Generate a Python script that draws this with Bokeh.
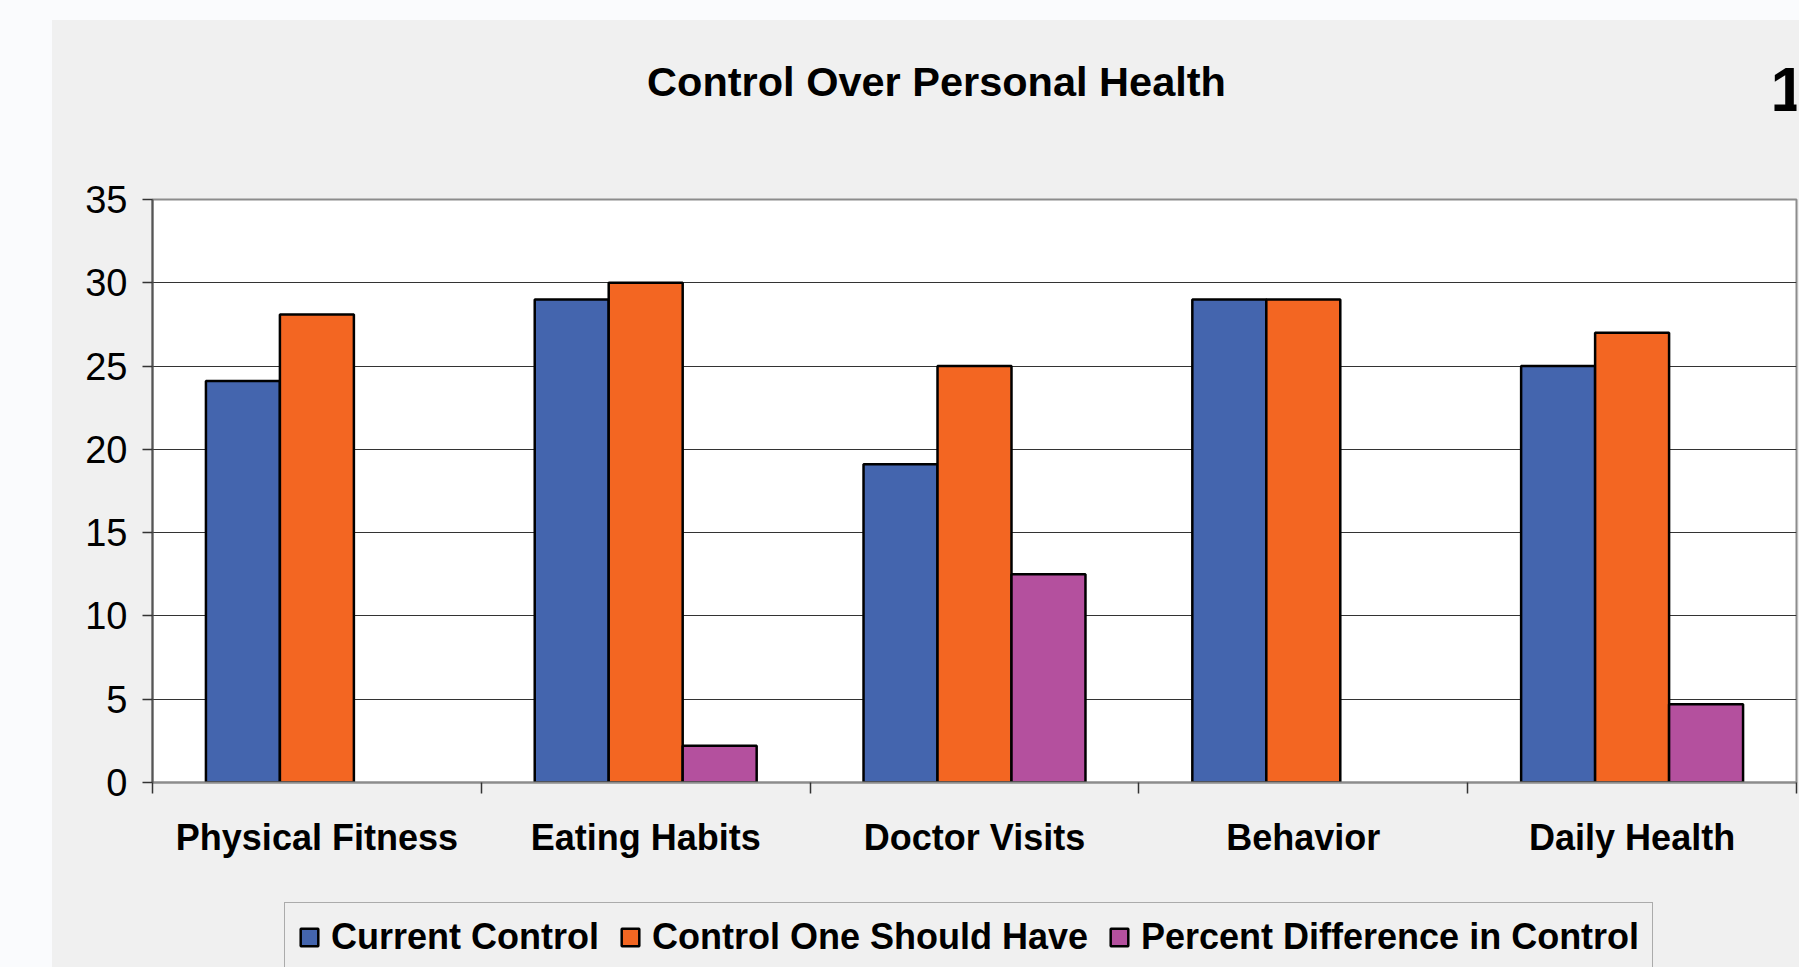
import numpy as np
from bokeh.plotting import figure
from bokeh.models import (ColumnDataSource, Range1d, FixedTicker, LinearAxis, Grid,
                          Legend, LegendItem, Label, Spacer)
from bokeh.layouts import column, row
from bokeh.transform import dodge
from bokeh.embed import file_html
from bokeh.resources import INLINE

# ---- data ----
categories = ["Physical Fitness", "Eating Habits", "Doctor Visits", "Behavior", "Daily Health"]
current_control = [24.1, 29.0, 19.1, 29.0, 25.0]
control_should_have = [28.1, 30.0, 25.0, 29.0, 27.0]
percent_difference = [np.nan, 2.2, 12.5, np.nan, 4.7]
series_names = ["Current Control", "Control One Should Have", "Percent Difference in Control"]
series_colors = ["#4465AE", "#F36622", "#B4509E"]
y_ticks = [0, 5, 10, 15, 20, 25, 30, 35]
title_text = "Control Over Personal Health"
corner_text = "1"

FONT = "Liberation Sans"
PANEL = "#F0F0F0"
PAGE = "#FAFBFD"
W = 1747

# ---------------- top strip: title ----------------
top = figure(width=W, height=130, x_range=Range1d(0, 1), y_range=Range1d(0, 1),
             output_backend="svg", toolbar_location=None,
             x_axis_type=None, y_axis_type=None,
             min_border=0, min_border_left=0, min_border_right=0,
             min_border_top=0, min_border_bottom=0,
             background_fill_color=PANEL, border_fill_color=PANEL, outline_line_color=None)
top.grid.visible = False
top.add_layout(Label(x=784, y=69, x_units="screen", y_units="screen", text=title_text,
                     text_align="center", text_baseline="alphabetic",
                     text_font=FONT, text_font_size="41.5px", text_font_style="bold",
                     text_color="black"))
top.add_layout(Label(x=1618, y=61, x_units="screen", y_units="screen", text=corner_text,
                     text_align="left", text_baseline="alphabetic",
                     text_font=FONT, text_font_size="63px", text_font_style="bold",
                     text_color="black"))

# ---------------- main chart ----------------
x_pos = np.arange(len(categories)) + 0.5
source = ColumnDataSource(dict(x=x_pos, cat=categories, cur=current_control,
                               sho=control_should_have, pct=percent_difference))

p = figure(width=W, height=740,
           x_range=Range1d(0, len(categories)), y_range=Range1d(y_ticks[0], y_ticks[-1]),
           output_backend="svg", toolbar_location=None,
           x_axis_type=None, y_axis_type=None,
           min_border_left=100, min_border_right=3, min_border_top=49, min_border_bottom=108,
           background_fill_color="white", border_fill_color=PANEL,
           outline_line_color="#8C8C8C", outline_line_width=2)

p.add_layout(Grid(dimension=1, ticker=FixedTicker(ticks=y_ticks[1:-1]),
                  grid_line_color="#333333", grid_line_width=1))

bw = 0.225
cols = ["cur", "sho", "pct"]
offsets = [-bw, 0.0, bw]
for col, off, color in zip(cols, offsets, series_colors):
    p.vbar(x=dodge("x", off, range=p.x_range), top=col, bottom=0, width=bw,
           source=source, fill_color=color, line_color="black", line_width=2.5)

xaxis = LinearAxis(
    ticker=FixedTicker(ticks=list(x_pos), minor_ticks=list(range(len(categories) + 1))),
    major_label_overrides={float(x): c for x, c in zip(x_pos, categories)},
    major_tick_line_color=None,
    minor_tick_in=0, minor_tick_out=11, minor_tick_line_color="#333333", minor_tick_line_width=1.5,
    axis_line_color="#8C8C8C", axis_line_width=2,
    major_label_standoff=23,
    major_label_text_font=FONT, major_label_text_font_size="36px",
    major_label_text_font_style="bold", major_label_text_color="black")
p.add_layout(xaxis, "below")

yaxis = LinearAxis(
    ticker=FixedTicker(ticks=y_ticks),
    major_tick_in=0, major_tick_out=10, major_tick_line_color="#333333", major_tick_line_width=1.5,
    minor_tick_line_color=None,
    axis_line_color="#555555", axis_line_width=2,
    major_label_standoff=15,
    major_label_text_font=FONT, major_label_text_font_size="38px",
    major_label_text_color="black")
p.add_layout(yaxis, "left")

# ---------------- bottom strip: legend ----------------
bot = figure(width=W, height=77, x_range=Range1d(0, 1), y_range=Range1d(0, 1),
             output_backend="svg", toolbar_location=None,
             x_axis_type=None, y_axis_type=None,
             min_border=0, min_border_left=0, min_border_right=0,
             min_border_top=0, min_border_bottom=0,
             background_fill_color=PANEL, border_fill_color=PANEL, outline_line_color=None)
bot.grid.visible = False
items = []
for name, col, color in zip(series_names, cols, series_colors):
    r = bot.vbar(x="x", top=col, width=0.1, source=source, visible=False,
                 fill_color=color, line_color="black", line_width=2.5)
    items.append(LegendItem(label=name, renderers=[r]))

legend = Legend(
    items=items, location=(132, -5), orientation="horizontal",
    glyph_width=22, glyph_height=22, label_standoff=11, spacing=20, padding=13, margin=0,
    border_line_color="#666666", border_line_width=1.5,
    background_fill_color=PANEL, background_fill_alpha=1.0,
    inactive_fill_alpha=0.0,
    label_text_font=FONT, label_text_font_size="36px", label_text_font_style="bold",
    label_text_color="black")
bot.add_layout(legend)

panel = column(top, p, bot, styles={"background-color": PANEL})
layout = row(Spacer(width=52), column(Spacer(height=20), panel),
             styles={"background-color": PAGE})

open("out.html", "w").write(file_html(layout, INLINE))
